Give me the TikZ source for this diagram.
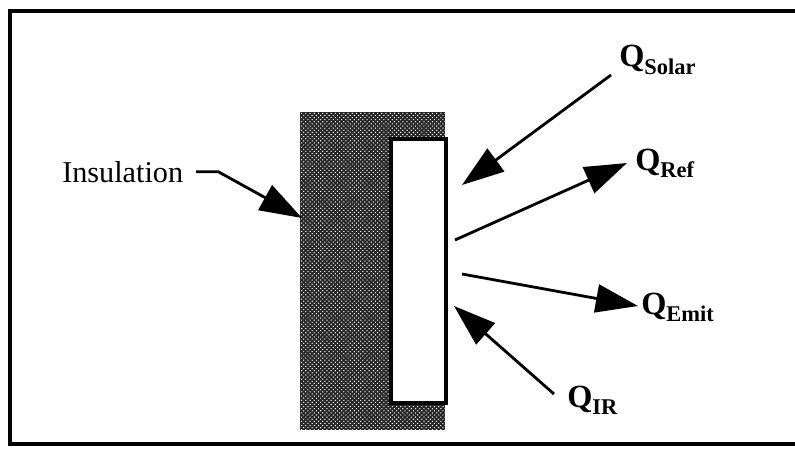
\documentclass[tikz,border=0pt]{standalone}
\usepackage{fontspec}
\setmainfont{Liberation Serif}
\usetikzlibrary{arrows.meta, patterns}
% Q 加下标的标签
\newcommand{\qlab}[1]{\textbf{\fontsize{23}{25}\selectfont Q}\raisebox{-5.5pt}{\fontsize{16}{17}\selectfont\textbf{#1}}}

\begin{document}
\begin{tikzpicture}[x=0.025cm, y=-0.025cm, >={Triangle[length=30pt, width=20pt]},
	every node/.style={inner sep=0pt, font=\fontsize{21.5}{24}\selectfont},
	flux/.style={->, line width=2pt}]
	% 1. 画布与外框 (右边框超出图外)
	\useasboundingbox (0,0) rectangle (795,453);
	\clip (0,0) rectangle (795,453);
	\draw[line width=2.2pt] (10,11) rectangle (810,444);
	
	% 2. 隔热层 (网点) 与辐射板
	\fill[black!85] (300,112) rectangle (445,430);
	\fill[pattern=crosshatch dots, pattern color=white] (300,112) rectangle (445,430);
	\filldraw[fill=white, line width=2.2pt] (391,139) rectangle (446,403);
	
	% 3. 标签
	\node[anchor=base west] (ins) at (62,182) {Insulation};
	\node[anchor=base west] (qsolar) at (619,67) {\qlab{Solar}};
	\node[anchor=base west] (qref) at (635,170) {\qlab{Ref}};
	\node[anchor=base west] (qemit) at (641,314) {\qlab{Emit}};
	\node[anchor=base west] (qir) at (567,407) {\qlab{IR}};
	
	% 4. 箭头端点
	\coordinate (ins-tip) at (302,218);
	\coordinate (solar-a) at (611,75);  \coordinate (solar-b) at (462,185);
	\coordinate (ref-a) at (455,240);   \coordinate (ref-b) at (627,163);
	\coordinate (emit-a) at (462,274);  \coordinate (emit-b) at (638,306);
	\coordinate (ir-a) at (554,394);    \coordinate (ir-b) at (454,306);
	
	% 5. 热流箭头
	\draw[flux] ([xshift=9pt]ins.east) -- ++(22,0) -- (ins-tip);
	\draw[flux] (solar-a) -- (solar-b);
	\draw[flux] (ref-a) -- (ref-b);
	\draw[flux] (emit-a) -- (emit-b);
	\draw[flux] (ir-a) -- (ir-b);
\end{tikzpicture}
\end{document}
